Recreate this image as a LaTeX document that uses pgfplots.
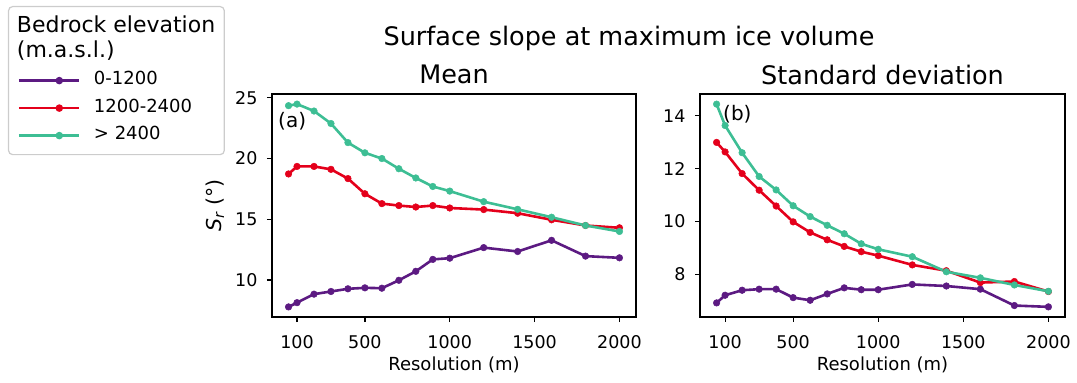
\documentclass[border=0pt]{standalone}
\usepackage{fontspec}
\setmainfont{DejaVu Sans}
\usepackage{pgfplots}
\usepackage{pgfplotstable}
\pgfplotsset{compat=1.18}
\definecolor{cpurple}{HTML}{5C1A82}
\definecolor{cred}{HTML}{E4001B}
\definecolor{cgreen}{HTML}{3DBE94}
\definecolor{legframe}{HTML}{CCCCCC}

\pgfplotstableread{
x mp mr mg sp sr sg
50 7.79 18.73 24.35 6.91 12.99 14.44
100 8.14 19.35 24.48 7.20 12.63 13.63
200 8.84 19.35 23.91 7.39 11.81 12.60
300 9.06 19.11 22.88 7.43 11.18 11.70
400 9.28 18.35 21.31 7.43 10.58 11.19
500 9.36 17.10 20.47 7.11 9.98 10.59
600 9.33 16.29 20.00 7.01 9.58 10.18
700 9.98 16.13 19.16 7.25 9.30 9.85
800 10.72 16.01 18.40 7.48 9.05 9.53
900 11.70 16.13 17.70 7.41 8.85 9.15
1000 11.80 15.93 17.32 7.41 8.70 8.94
1200 12.67 15.80 16.45 7.61 8.35 8.66
1400 12.35 15.50 15.82 7.55 8.13 8.09
1600 13.27 14.96 15.17 7.43 7.68 7.86
1800 11.97 14.49 14.49 6.81 7.72 7.59
2000 11.83 14.30 14.00 6.76 7.34 7.35
}\data

\pgfplotsset{
  myaxis/.style={
    scale only axis, height=223pt, anchor=south west,
    axis line style={line width=1.2pt, black},
    tick align=outside, xtick pos=bottom, ytick pos=left,
    major tick length=5pt,
    every tick/.style={line width=1.2pt, black},
    xmin=-47.5, xmax=2097.5,
    xtick={100,500,1000,1500,2000},
    ticklabel style={font=\fontsize{17.5}{20}\selectfont},
    xticklabel style={yshift=-10pt},
    yticklabel style={xshift=-6pt},
    /pgf/number format/assume math mode=true,
    /pgf/number format/1000 sep={},
    xlabel={Resolution (m)},
    xlabel style={font=\fontsize{18}{20}\selectfont, at={(axis description cs:0.5,0)}, anchor=base, yshift=-54pt},
    clip=false,
  },
  ser/.style={line width=2.6pt, mark=*, mark size=3.3pt, mark options={solid, line width=0.5pt}},
}

\begin{document}
\begin{tikzpicture}
\useasboundingbox (0,0) rectangle (1077pt,383pt);

\begin{axis}[myaxis, at={(272pt,66pt)}, width=364pt,
  ymin=6.96, ymax=25.31, ytick={10,15,20,25},
  ylabel={\textit{S}\textsubscript{\textit{r}} (°)},
  ylabel style={font=\fontsize{20.5}{22}\selectfont, at={(axis description cs:-0.157,0.5)}, anchor=center},
  legend style={at={(axis description cs:-0.7253,1.3946)}, anchor=north west,
    draw=legframe, line width=1.2pt, rounded corners=4pt,
    inner xsep=9pt, inner ysep=11pt, column sep=14pt, row sep=11.5pt,
    font=\fontsize{18}{20}\selectfont,
    nodes={inner sep=0pt, text height=12pt, text depth=4pt}},
  legend cell align=left,
  legend image code/.code={\path (-21pt,0pt) -- (39pt,0pt);
    \draw[mark repeat=2,mark phase=2] plot coordinates {(0pt,0pt) (19.5pt,0pt) (39pt,0pt)};},
]
\addlegendimage{empty legend}
\addlegendentry{\hspace*{-77pt}\raisebox{-3pt}{\fontsize{22}{24}\selectfont Bedrock elevation}}
\addlegendimage{empty legend}
\addlegendentry{\hspace*{-77pt}\fontsize{22}{24}\selectfont (m.a.s.l.)}
\addlegendimage{cpurple, line width=2.4pt, mark=*, mark size=2.5pt}
\addlegendentry{0-1200}
\addlegendimage{cred, line width=2.4pt, mark=*, mark size=2.5pt}
\addlegendentry{1200-2400}
\addlegendimage{cgreen, line width=2.4pt, mark=*, mark size=2.5pt}
\addlegendentry{> 2400}
\addplot[ser, cpurple, forget plot] table[x=x, y=mp] {\data};
\addplot[ser, cred, forget plot] table[x=x, y=mr] {\data};
\addplot[ser, cgreen, forget plot] table[x=x, y=mg] {\data};
\node[anchor=north west, inner sep=0pt, font=\fontsize{20}{22}\selectfont] at (axis description cs:0.0165,0.92) {(a)};
\node[anchor=base, inner sep=0pt, yshift=10pt, font=\fontsize{25.5}{28}\selectfont] at (axis description cs:0.5,1) {Mean};
\end{axis}

\begin{axis}[myaxis, at={(700pt,66pt)}, width=365pt,
  ymin=6.376, ymax=14.824, ytick={8,10,12,14},
]
\addplot[ser, cpurple] table[x=x, y=sp] {\data};
\addplot[ser, cred] table[x=x, y=sr] {\data};
\addplot[ser, cgreen] table[x=x, y=sg] {\data};
\node[anchor=north west, inner sep=0pt, font=\fontsize{20}{22}\selectfont] at (axis description cs:0.063,0.95) {(b)};
\node[anchor=base, inner sep=0pt, yshift=10pt, font=\fontsize{25.5}{28}\selectfont] at (axis description cs:0.5,1) {Standard deviation};
\end{axis}

\node[anchor=base, font=\fontsize{25.5}{28}\selectfont] at (629pt,337pt) {Surface slope at maximum ice volume};
\end{tikzpicture}
\end{document}
